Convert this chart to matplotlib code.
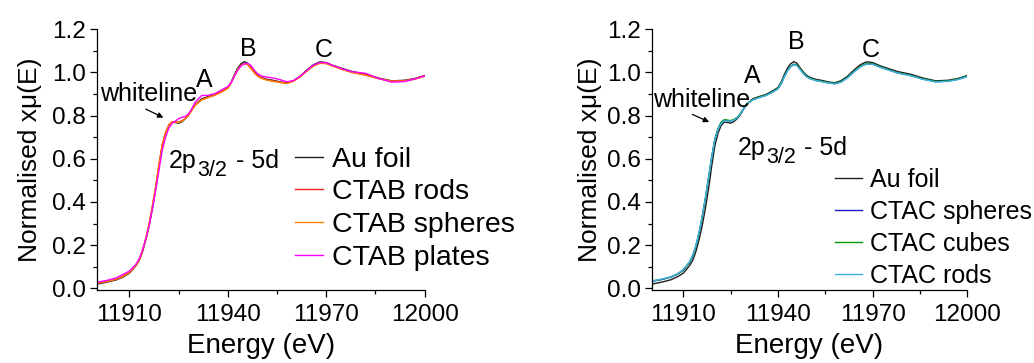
import matplotlib

matplotlib.use("Agg")
import matplotlib.pyplot as plt
from matplotlib.ticker import FormatStrFormatter, MultipleLocator

plt.rcParams["font.family"] = ["Liberation Sans", "DejaVu Sans"]

# energy grid (eV) and normalised absorption
energy = [11900, 11903, 11906, 11908, 11910, 11912, 11913, 11914, 11915, 11916,
          11917, 11918, 11919, 11920, 11921, 11922, 11923, 11924, 11925, 11926,
          11927, 11928, 11929, 11930, 11932, 11934, 11936, 11938, 11940, 11941,
          11942, 11943, 11944, 11945, 11946, 11947, 11948, 11949, 11950, 11952,
          11954, 11956, 11958, 11960, 11962, 11964, 11966, 11968, 11970, 11972,
          11975, 11978, 11982, 11986, 11990, 11994, 11997, 12000]

au_foil = [0.019, 0.028, 0.039, 0.052, 0.070, 0.105, 0.130, 0.170, 0.225, 0.290,
           0.370, 0.460, 0.565, 0.660, 0.718, 0.755, 0.770, 0.768, 0.765, 0.772,
           0.785, 0.802, 0.828, 0.850, 0.878, 0.888, 0.897, 0.912, 0.930, 0.955,
           0.990, 1.020, 1.040, 1.050, 1.043, 1.022, 1.003, 0.988, 0.978, 0.968,
           0.963, 0.956, 0.952, 0.962, 0.982, 1.010, 1.035, 1.049, 1.046, 1.033,
           1.018, 1.004, 0.992, 0.974, 0.961, 0.964, 0.972, 0.986]

ctab_rods = [0.024, 0.032, 0.043, 0.056, 0.074, 0.108, 0.134, 0.176, 0.232, 0.300,
             0.382, 0.472, 0.575, 0.668, 0.722, 0.757, 0.771, 0.771, 0.770, 0.776,
             0.787, 0.802, 0.826, 0.848, 0.874, 0.885, 0.895, 0.910, 0.928, 0.952,
             0.985, 1.014, 1.033, 1.041, 1.038, 1.020, 1.000, 0.985, 0.975, 0.965,
             0.960, 0.954, 0.950, 0.960, 0.980, 1.006, 1.030, 1.043, 1.042, 1.030,
             1.014, 1.000, 0.988, 0.972, 0.960, 0.962, 0.970, 0.984]

ctab_spheres = [0.023, 0.031, 0.042, 0.055, 0.073, 0.107, 0.133, 0.175, 0.230, 0.298,
                0.380, 0.470, 0.572, 0.665, 0.720, 0.756, 0.770, 0.770, 0.769, 0.775,
                0.786, 0.801, 0.825, 0.847, 0.873, 0.884, 0.894, 0.909, 0.927, 0.951,
                0.984, 1.013, 1.032, 1.040, 1.037, 1.019, 0.999, 0.984, 0.974, 0.964,
                0.959, 0.953, 0.949, 0.959, 0.979, 1.005, 1.029, 1.042, 1.041, 1.029,
                1.013, 0.999, 0.987, 0.971, 0.959, 0.961, 0.969, 0.983]

ctab_plates = [0.028, 0.036, 0.048, 0.064, 0.080, 0.112, 0.138, 0.178, 0.230, 0.292,
               0.368, 0.455, 0.548, 0.640, 0.700, 0.742, 0.764, 0.775, 0.786, 0.792,
               0.796, 0.808, 0.832, 0.862, 0.893, 0.894, 0.902, 0.918, 0.935, 0.952,
               0.982, 1.010, 1.030, 1.040, 1.042, 1.033, 1.012, 0.995, 0.985, 0.978,
               0.974, 0.966, 0.957, 0.962, 0.982, 1.008, 1.033, 1.046, 1.045, 1.032,
               1.016, 1.003, 0.996, 0.972, 0.955, 0.958, 0.970, 0.984]

ctac_spheres = [0.032, 0.040, 0.051, 0.064, 0.083, 0.120, 0.150, 0.195, 0.255, 0.330,
                0.415, 0.510, 0.605, 0.690, 0.738, 0.768, 0.779, 0.777, 0.775, 0.780,
                0.790, 0.806, 0.830, 0.852, 0.874, 0.884, 0.893, 0.907, 0.925, 0.948,
                0.980, 1.008, 1.027, 1.037, 1.033, 1.015, 0.997, 0.982, 0.973, 0.963,
                0.958, 0.952, 0.948, 0.956, 0.976, 1.002, 1.026, 1.040, 1.039, 1.027,
                1.012, 0.998, 0.986, 0.969, 0.957, 0.960, 0.968, 0.982]

ctac_cubes = [0.033, 0.041, 0.052, 0.065, 0.084, 0.121, 0.151, 0.196, 0.256, 0.332,
              0.417, 0.512, 0.607, 0.692, 0.740, 0.770, 0.781, 0.779, 0.777, 0.781,
              0.791, 0.807, 0.831, 0.853, 0.875, 0.885, 0.894, 0.908, 0.926, 0.949,
              0.981, 1.009, 1.028, 1.038, 1.034, 1.016, 0.998, 0.983, 0.974, 0.964,
              0.959, 0.953, 0.949, 0.957, 0.977, 1.003, 1.027, 1.041, 1.040, 1.028,
              1.013, 0.999, 0.987, 0.970, 0.958, 0.961, 0.969, 0.983]

ctac_rods = [0.034, 0.042, 0.053, 0.066, 0.086, 0.124, 0.154, 0.199, 0.259, 0.334,
             0.418, 0.512, 0.605, 0.688, 0.735, 0.765, 0.776, 0.775, 0.774, 0.779,
             0.789, 0.805, 0.829, 0.851, 0.873, 0.883, 0.892, 0.906, 0.924, 0.947,
             0.979, 1.007, 1.026, 1.036, 1.032, 1.014, 0.996, 0.981, 0.972, 0.962,
             0.957, 0.951, 0.947, 0.955, 0.975, 1.001, 1.025, 1.039, 1.038, 1.026,
             1.011, 0.997, 0.985, 0.968, 0.956, 0.959, 0.967, 0.981]

left_series = [
    ("Au foil", au_foil, "#202020"),
    ("CTAB rods", ctab_rods, "#ff2020"),
    ("CTAB spheres", ctab_spheres, "#ff8000"),
    ("CTAB plates", ctab_plates, "#ff00ff"),
]
right_series = [
    ("Au foil", au_foil, "#202020"),
    ("CTAC spheres", ctac_spheres, "#1a1acc"),
    ("CTAC cubes", ctac_cubes, "#009900"),
    ("CTAC rods", ctac_rods, "#40b0e8"),
]

x_ticks = [11910, 11940, 11970, 12000]


def style_axes(ax, ylabelpad):
    ax.set_xlim(11900, 12000)
    ax.set_ylim(-0.008, 1.2)
    ax.set_xticks(x_ticks)
    ax.xaxis.set_minor_locator(MultipleLocator(15))
    ax.yaxis.set_major_locator(MultipleLocator(0.2))
    ax.yaxis.set_minor_locator(MultipleLocator(0.1))
    ax.yaxis.set_major_formatter(FormatStrFormatter("%.1f"))
    for side in ("top", "right"):
        ax.spines[side].set_visible(False)
    for side in ("left", "bottom"):
        ax.spines[side].set_linewidth(0.9)
    ax.tick_params(which="major", length=5, width=0.9, labelsize=17.5)
    ax.tick_params(axis="y", which="major", pad=3)
    ax.tick_params(axis="x", which="major", pad=5)
    ax.tick_params(which="minor", length=3, width=0.9)
    ax.set_xlabel("Energy (eV)", fontsize=20, labelpad=5)
    ax.set_ylabel("Normalised x\u03bc(E)", fontsize=19, labelpad=ylabelpad)


def transition_label(ax, x, y):
    # "2p" + large lowered subscript "3/2" + " - 5d", placed piece by piece
    renderer = fig.canvas.get_renderer()
    first = ax.text(x, y, "2p", fontsize=18, va="baseline")
    w1 = first.get_window_extent(renderer).width * 72 / fig.dpi
    sub = ax.annotate("3/2", xy=(x, y), xytext=(w1 + 0.5, -6), textcoords="offset points",
                      fontsize=15.5, va="baseline")
    w2 = sub.get_window_extent(renderer).width * 72 / fig.dpi
    ax.annotate(" - 5d", xy=(x, y), xytext=(w1 + w2 + 1.5, 0), textcoords="offset points",
                fontsize=18, va="baseline")


fig = plt.figure(figsize=(10.34, 3.63), dpi=100)
ax1 = fig.add_axes([0.0935, 0.2011, 0.3172, 0.7182])
ax2 = fig.add_axes([0.6303, 0.2011, 0.3052, 0.7182])

for name, values, color in left_series:
    ax1.plot(energy, values, color=color, linewidth=1.0, label=name)
for name, values, color in right_series:
    ax2.plot(energy, values, color=color, linewidth=1.0, label=name)

style_axes(ax1, 7)
style_axes(ax2, 3)

# left panel annotations
ax1.text(11901.0, 0.870, "whiteline", fontsize=18, va="baseline")
ax1.text(11932.7, 0.932, "A", fontsize=18, ha="center", va="baseline")
ax1.text(11946.2, 1.077, "B", fontsize=18, ha="center", va="baseline")
ax1.text(11969.1, 1.072, "C", fontsize=18, ha="center", va="baseline")
transition_label(ax1, 11922.0, 0.559)
ax1.annotate("", xy=(11921.1, 0.785), xytext=(11914.2, 0.836),
             arrowprops=dict(arrowstyle="-|>", color="black", lw=0.9, mutation_scale=8))

# right panel annotations
ax2.text(11900.5, 0.842, "whiteline", fontsize=18, va="baseline")
ax2.text(11931.7, 0.951, "A", fontsize=18, ha="center", va="baseline")
ax2.text(11945.9, 1.107, "B", fontsize=18, ha="center", va="baseline")
ax2.text(11969.5, 1.072, "C", fontsize=18, ha="center", va="baseline")
transition_label(ax2, 11927.2, 0.619)
ax2.annotate("", xy=(11919.0, 0.765), xytext=(11912.1, 0.811),
             arrowprops=dict(arrowstyle="-|>", color="black", lw=0.9, mutation_scale=8))

ax1.legend(loc="center left", bbox_to_anchor=(0.2853, 0.4248), bbox_transform=fig.transFigure,
           frameon=False, fontsize=20.5, handlelength=1.0, handletextpad=0.31,
           labelspacing=0.24, borderpad=0, borderaxespad=0)
ax2.legend(loc="center left", bbox_to_anchor=(0.8075, 0.373), bbox_transform=fig.transFigure,
           frameon=False, fontsize=18, handlelength=1.1, handletextpad=0.31,
           labelspacing=0.32, borderpad=0, borderaxespad=0)

fig.savefig("out.png", dpi=100)
